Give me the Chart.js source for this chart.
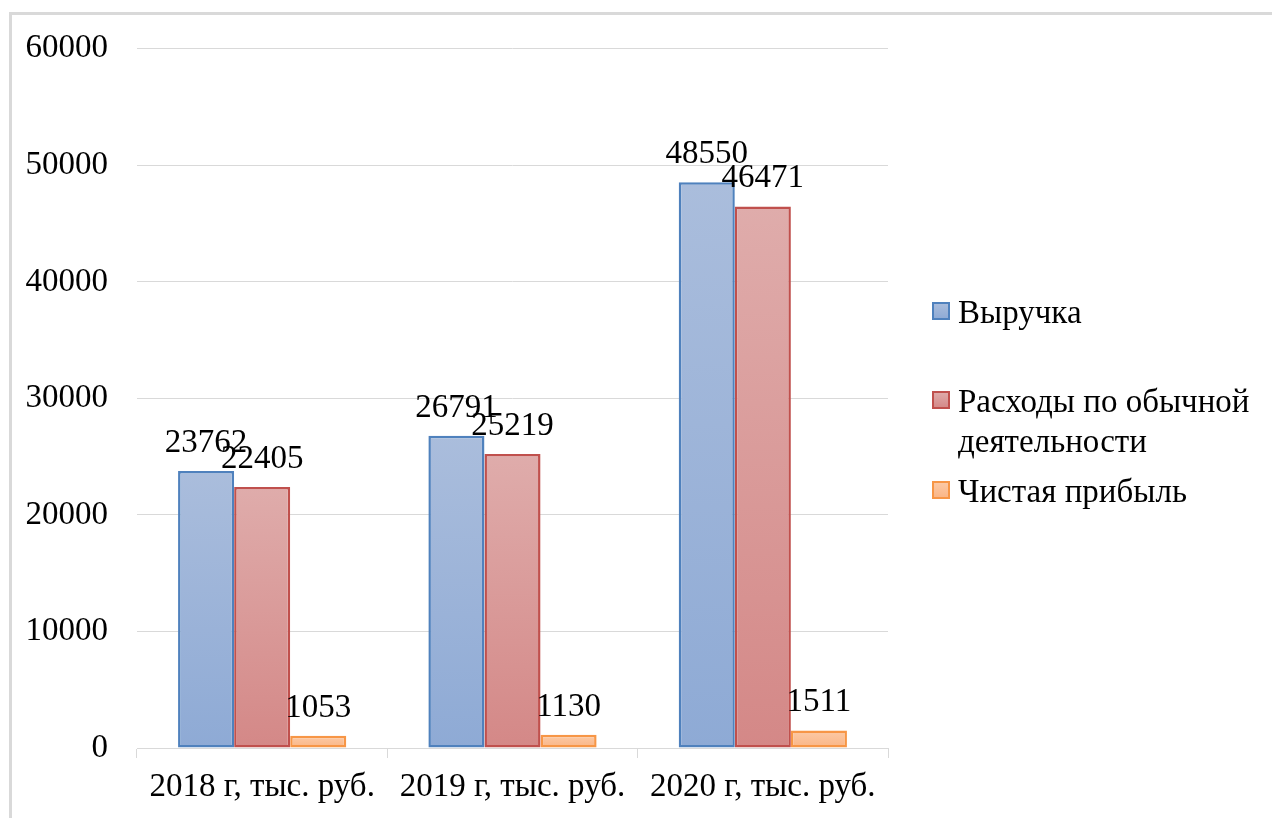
<!DOCTYPE html>
<html lang="ru">
<head>
<meta charset="utf-8">
<title>Выручка, расходы и чистая прибыль</title>
<script src="https://cdn.jsdelivr.net/npm/chart.js@4/dist/chart.umd.min.js"></script>
<style>
  html, body { margin: 0; padding: 0; background: #ffffff; }
  #wrap { position: relative; width: 1272px; height: 818px; overflow: hidden; }
  #frame {
    position: absolute; left: 9px; top: 12px; width: 1300px; height: 900px;
    border-top: 3px solid #d9d9d9; border-left: 3px solid #d9d9d9;
  }
  canvas { position: absolute; left: 0; top: 0; }
</style>
</head>
<body>
<div id="wrap">
  <div id="frame"></div>
  <canvas id="chart" width="1272" height="818"></canvas>
</div>
<script>
// Categories and series values (тыс. руб.)
const categories = ['2018 г, тыс. руб.', '2019 г, тыс. руб.', '2020 г, тыс. руб.'];
const seriesNames = ['Выручка', 'Расходы по обычной деятельности', 'Чистая прибыль'];
const revenue = [23762, 26791, 48550];
const expenses = [22405, 25219, 46471];
const netProfit = [1053, 1130, 1511];
const yMin = 0;
const yMax = 60000;
const yStep = 10000;

const FONT = '"Liberation Serif", "Times New Roman", serif';
const FONT_SIZE = 33;

// Vertical gradient spanning each bar from its top to the baseline
function barGradient(topColor, bottomColor) {
  return (ctx) => {
    if (ctx.type !== 'data') return topColor;
    const chart = ctx.chart;
    const y = chart.scales.y;
    if (!y) return topColor;
    const yTop = y.getPixelForValue(ctx.raw);
    const yBase = y.getPixelForValue(0);
    if (!isFinite(yTop) || !isFinite(yBase) || yTop === yBase) return topColor;
    const g = chart.ctx.createLinearGradient(0, yTop, 0, yBase);
    g.addColorStop(0, topColor);
    g.addColorStop(1, bottomColor);
    return g;
  };
}

const palette = [
  { top: '#aabddc', bottom: '#8eaad5', border: '#4f81bd' },
  { top: '#dfacab', bottom: '#d48887', border: '#c0504d' },
  { top: '#fccaa6', bottom: '#fab585', border: '#f79646' }
];

const seriesValues = [revenue, expenses, netProfit];

// Value labels above every bar
const valueLabels = {
  id: 'valueLabels',
  afterDatasetsDraw(chart) {
    const c = chart.ctx;
    c.save();
    c.font = FONT_SIZE + 'px ' + FONT;
    c.fillStyle = '#000000';
    c.textAlign = 'center';
    c.textBaseline = 'alphabetic';
    chart.data.datasets.forEach((ds, i) => {
      const meta = chart.getDatasetMeta(i);
      meta.data.forEach((bar, j) => {
        c.fillText(String(ds.data[j]), bar.x, bar.y - 19);
      });
    });
    c.restore();
  }
};

// Legend on the right, with wrapping of long series names
const sideLegend = {
  id: 'sideLegend',
  afterDraw(chart) {
    const c = chart.ctx;
    const boxX = 933, textX = 958, box = 16, lineH = 40, maxW = 305;
    const baselines = [323, 412, 502];
    c.save();
    c.font = FONT_SIZE + 'px ' + FONT;
    c.textAlign = 'left';
    c.textBaseline = 'alphabetic';
    chart.data.datasets.forEach((ds, i) => {
      // word wrap
      const words = ds.label.split(' ');
      const lines = [];
      let cur = '';
      words.forEach(w => {
        const t = cur ? cur + ' ' + w : w;
        if (cur && c.measureText(t).width > maxW) { lines.push(cur); cur = w; }
        else cur = t;
      });
      if (cur) lines.push(cur);
      const b = baselines[i];
      const by = b - 12 - box / 2;
      const g = c.createLinearGradient(0, by, 0, by + box);
      g.addColorStop(0, palette[i].top);
      g.addColorStop(1, palette[i].bottom);
      c.fillStyle = g;
      c.fillRect(boxX, by, box, box);
      c.strokeStyle = palette[i].border;
      c.lineWidth = 2;
      c.strokeRect(boxX, by, box, box);
      c.fillStyle = '#000000';
      lines.forEach((ln, k) => c.fillText(ln, textX, b + k * lineH));
    });
    c.restore();
  }
};

new Chart(document.getElementById('chart'), {
  type: 'bar',
  data: {
    labels: categories,
    datasets: seriesNames.map((name, i) => ({
      label: name,
      data: seriesValues[i],
      backgroundColor: barGradient(palette[i].top, palette[i].bottom),
      borderColor: palette[i].border,
      borderWidth: 2.5,
      borderSkipped: false,
      categoryPercentage: 0.672,
      barPercentage: 1
    }))
  },
  options: {
    responsive: false,
    animation: false,
    devicePixelRatio: 1,
    layout: { padding: { left: 0, right: 384, top: 46, bottom: 0 } },
    plugins: {
      legend: { display: false },
      tooltip: { enabled: false },
      title: { display: false }
    },
    scales: {
      x: {
        grid: {
          display: true,
          offset: true,
          drawOnChartArea: false,
          drawTicks: true,
          tickLength: 10,
          color: '#d9d9d9',
          lineWidth: 1
        },
        border: { display: true, color: '#d9d9d9', width: 1 },
        ticks: {
          color: '#000000',
          font: { family: FONT, size: FONT_SIZE },
          padding: 10,
          maxRotation: 0,
          autoSkip: false
        },
        afterFit(scale) { scale.height = 70; }
      },
      y: {
        min: yMin,
        max: yMax,
        grid: { color: '#d9d9d9', lineWidth: 1, drawTicks: false },
        border: { display: false },
        ticks: {
          stepSize: yStep,
          color: '#000000',
          font: { family: FONT, size: FONT_SIZE },
          padding: 29,
          callback: (v) => String(v)
        },
        afterFit(scale) { scale.width = 137; }
      }
    }
  },
  plugins: [valueLabels, sideLegend]
});
</script>
</body>
</html>
